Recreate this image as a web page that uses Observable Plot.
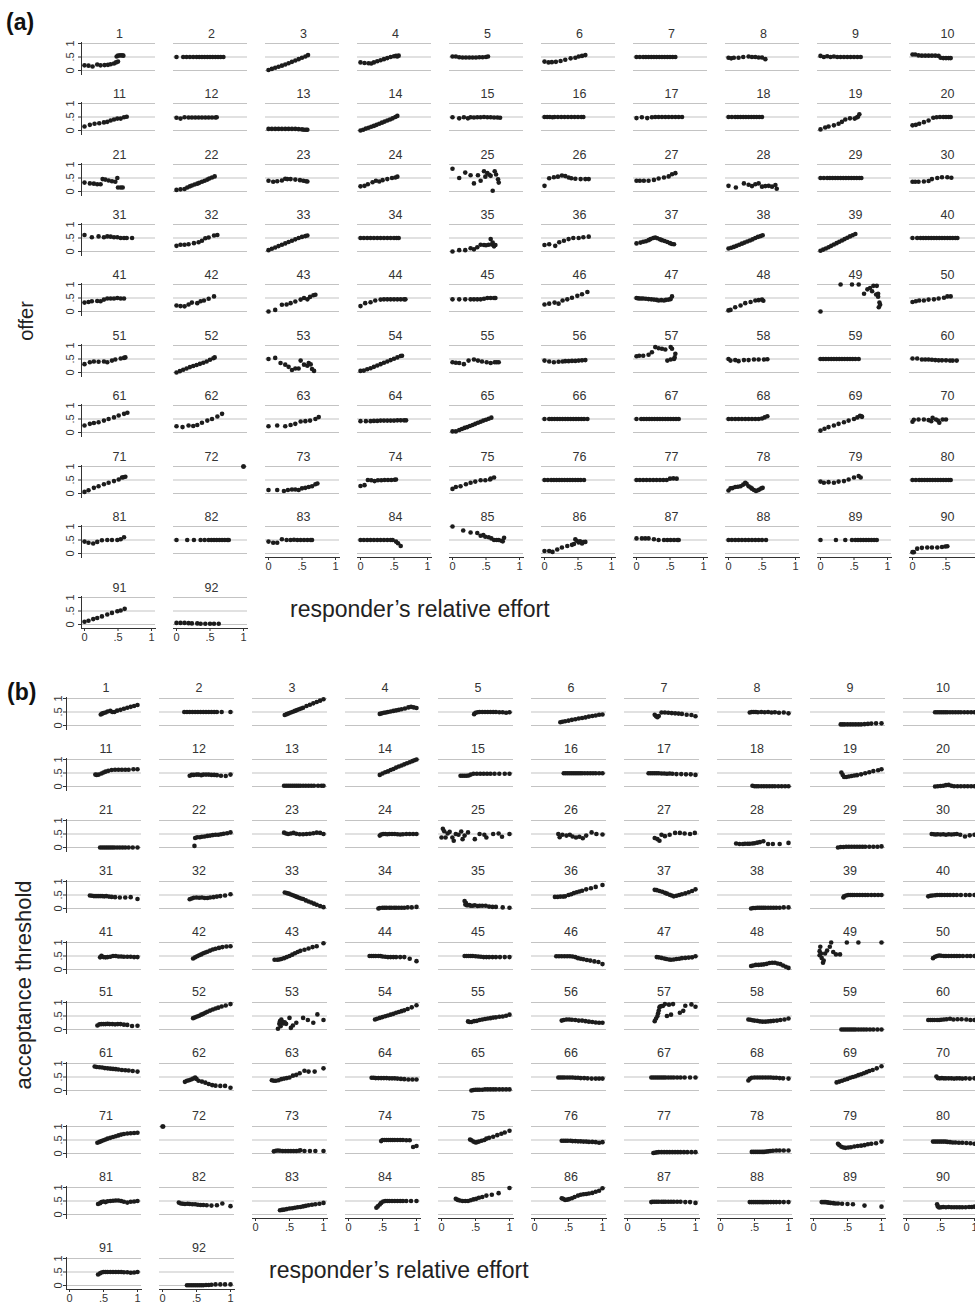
<!DOCTYPE html>
<html><head><meta charset="utf-8">
<script src="https://cdn.jsdelivr.net/npm/d3@7"></script>
<script src="https://cdn.jsdelivr.net/npm/@observablehq/plot@0.6"></script>
<style>
body{margin:0;background:#fff;}
#root{position:relative;width:975px;height:1303px;overflow:hidden;background:#fff;font-family:"Liberation Sans",Arial,sans-serif;color:#222;}
.cell{position:absolute;}
.lbl{position:absolute;white-space:nowrap;line-height:1;}
</style></head><body><div id="root"></div>
<script>
// ---------- data: each subject's points as "x:y" pairs in hundredths ----------
const subjects = d3.range(1, 93);
const offerPoints = [
"0:19 6:18 12:15 19:22 24:19 30:20 35:21 39:23 44:26 47:30 50:33 48:52 50:55 53:56 56:56 58:55",
"0:50 10:50 15:50 20:50 25:50 30:50 34:50 38:50 42:50 46:50 50:50 54:50 58:50 62:50 66:50 70:50",
"0:2 5:6 10:10 15:14 20:18 25:22 30:27 35:32 40:37 45:42 50:47 55:52 59:57",
"0:30 6:28 12:27 16:26 20:30 25:34 30:38 35:42 40:46 45:50 50:53 53:54 55:52 57:55",
"0:52 5:52 10:49 15:48 20:48 25:48 30:48 35:48 40:49 45:49 50:50 53:52",
"0:33 6:30 11:31 17:32 24:35 31:40 39:45 46:47 51:52 56:54 61:57",
"0:50 5:50 10:50 14:50 18:50 22:50 26:50 30:50 34:50 38:50 42:50 46:50 50:50 54:50 58:50",
"0:47 4:45 8:47 15:47 22:50 30:52 35:50 40:50 45:48 50:48 55:42",
"0:54 5:50 10:53 15:50 20:52 25:50 30:50 35:50 40:50 45:50 50:50 55:50 60:50",
"0:59 4:59 9:56 14:55 19:55 24:55 29:55 34:55 39:54 42:47 46:46 50:46 54:46 57:46",
"0:15 8:21 15:25 22:27 29:30 34:32 39:37 44:41 49:44 54:44 59:49 63:51",
"0:47 6:44 12:49 18:48 23:48 28:48 33:48 38:48 43:48 48:48 53:48 58:48 60:49",
"0:6 5:6 10:6 15:6 20:6 25:6 30:6 35:6 40:6 45:5 50:4 53:3 56:3 58:3",
"0:0 4:3 8:7 12:10 16:14 20:17 24:21 28:25 32:29 36:33 40:37 44:41 48:45 52:50 55:54",
"0:49 10:45 17:49 23:45 27:49 32:48 37:49 42:49 47:50 52:49 57:49 62:48 67:48 71:47",
"0:50 4:50 8:50 12:49 15:50 20:50 25:50 30:50 35:50 40:50 45:50 50:50 55:50 58:50",
"0:46 8:49 16:46 23:49 28:50 33:50 38:50 43:50 48:50 53:50 58:50 63:50 68:50",
"0:50 5:50 10:50 14:50 18:50 22:50 26:50 30:50 34:50 38:50 42:50 46:50 50:50",
"0:4 7:11 12:15 20:19 27:25 32:32 37:41 44:45 51:44 54:48 56:51 58:60",
"0:19 5:21 10:25 17:31 24:37 31:47 36:49 41:50 46:50 50:50 54:50 57:50",
"0:33 8:30 14:29 19:27 24:27 27:46 31:44 36:41 41:38 46:36 49:50 50:15 54:15 57:15",
"0:6 6:8 12:9 16:15 20:19 23:22 27:26 31:29 34:32 38:36 42:40 46:44 49:48 53:52 57:56",
"0:40 7:36 13:38 20:41 25:47 28:46 33:46 40:44 47:42 52:40 56:38 58:37",
"0:19 6:21 11:27 18:34 23:40 28:37 33:42 40:46 47:50 52:52 55:55",
"0:84 10:50 19:70 27:60 32:30 38:60 42:40 47:75 49:55 52:68 55:62 57:58 60:3 63:75 65:63 68:45 69:33",
"0:21 7:49 14:53 20:55 26:59 31:57 36:52 40:49 46:47 54:46 61:46 66:46",
"0:40 5:40 11:40 18:40 26:43 33:48 41:52 48:56 53:64 58:68",
"0:21 11:15 23:30 30:25 35:20 40:27 45:30 50:18 55:20 60:21 65:18 70:24 72:10",
"0:50 5:50 10:50 14:50 18:50 22:50 26:50 30:50 34:50 38:50 42:50 46:50 50:50 54:50 58:50 61:50",
"0:36 4:36 9:36 17:37 24:39 29:46 37:50 44:53 52:53 58:51",
"0:61 11:53 21:56 29:53 34:56 39:55 44:53 49:53 54:50 59:50 63:50 71:50",
"0:21 6:25 12:25 18:27 26:31 33:34 38:40 43:49 48:52 56:59 61:61",
"0:5 5:10 10:15 15:20 20:25 25:30 30:35 35:40 40:45 45:50 50:54 55:57 58:59",
"0:50 5:50 10:50 15:50 20:50 25:50 30:50 35:50 40:50 45:50 50:50 54:50 57:50",
"0:0 10:5 19:5 27:12 32:8 37:16 42:25 47:24 50:23 54:25 57:46 59:26 60:33 62:19 64:24",
"0:24 7:27 16:21 22:34 29:40 36:46 43:50 51:50 58:53 66:55",
"0:30 6:33 10:36 14:38 18:42 21:46 25:50 28:52 31:49 35:45 38:42 42:39 46:35 50:31 53:28 56:27",
"0:11 4:14 8:17 12:21 16:25 20:29 24:33 28:37 32:41 36:45 40:50 44:54 48:57 51:60",
"0:3 4:7 8:11 12:16 16:21 20:26 24:31 28:36 32:41 36:46 40:51 44:56 48:60 52:65",
"0:50 7:50 12:50 16:50 20:50 24:50 28:50 32:50 36:50 40:50 44:50 48:50 52:50 56:50 60:50 64:50 67:50",
"0:33 6:35 11:38 19:39 24:38 29:44 34:48 39:48 44:48 49:50 54:48 59:48",
"0:22 6:20 12:19 18:26 23:33 31:31 36:38 41:41 48:47 56:56",
"0:0 10:6 20:25 27:26 33:31 40:37 48:44 53:50 58:45 62:54 67:60 70:62",
"0:20 7:31 15:34 22:41 30:44 35:45 40:45 45:45 50:45 55:45 60:45 65:45 67:45",
"0:45 10:45 19:45 27:45 32:45 37:45 42:45 47:47 52:50 57:50 62:50 64:50",
"0:26 7:29 15:33 21:29 27:41 34:45 41:51 49:58 56:64 64:72",
"0:50 2:49 4:48 7:48 10:48 14:47 18:46 22:45 26:44 30:43 33:41 37:42 41:41 44:43 48:44 51:46 53:56",
"0:4 3:6 10:16 18:22 25:31 33:35 40:41 45:42 50:44 52:40",
"0:0 30:100 47:100 57:100 65:66 70:82 74:87 77:75 79:95 83:63 84:95 86:55 86:66 87:16 88:33 89:25",
"0:35 5:38 10:41 17:41 24:44 32:45 39:48 47:51 52:56 57:56",
"0:31 8:38 14:41 21:40 29:41 34:38 41:44 46:48 54:52 59:54 61:56",
"0:0 5:5 10:10 15:15 20:20 25:24 30:28 35:32 40:36 45:41 50:47 55:53 57:56",
"0:50 10:54 18:35 25:29 30:21 35:9 40:15 45:15 48:44 53:29 58:25 60:35 63:30 65:13 68:6",
"0:6 5:7 10:12 15:16 20:21 25:26 30:31 35:36 40:41 45:46 50:51 55:56 60:61 62:62",
"0:38 5:36 10:35 17:31 24:44 32:48 38:44 44:41 51:38 57:35 63:38 66:38 69:38",
"0:44 7:41 14:38 21:40 27:41 31:42 36:42 41:43 46:43 51:44 56:45 61:46",
"0:60 4:62 10:62 18:66 23:75 28:94 33:90 38:88 43:85 51:94 53:88 46:44 51:48 56:50 57:56 58:69",
"0:50 3:44 10:46 15:42 23:46 30:46 38:48 45:48 53:48 58:49",
"0:50 4:50 8:50 12:50 16:50 20:50 24:50 28:50 32:50 36:50 40:50 44:50 48:50 52:50 57:50",
"0:52 7:52 14:48 19:48 24:48 29:47 34:46 39:45 44:45 50:45 56:44 60:44 66:44",
"0:26 8:32 14:35 21:38 29:44 36:50 44:56 51:63 59:69 64:73",
"0:23 9:20 18:26 25:24 31:28 38:36 46:44 53:50 61:59 68:69",
"0:23 13:26 25:23 33:28 40:32 48:41 55:42 62:44 70:50 75:57",
"0:42 8:42 15:42 20:43 25:43 30:44 35:44 40:44 45:44 50:44 55:45 60:45 65:45 68:45",
"0:4 5:4 10:9 14:13 18:17 22:20 26:24 30:28 34:32 38:36 42:40 46:44 50:47 54:51 58:55",
"0:50 7:50 11:50 15:50 19:50 23:50 27:50 31:50 35:50 39:50 43:50 47:50 51:50 55:50 59:50 64:50",
"0:50 7:50 11:50 15:50 19:50 23:50 27:50 31:50 35:50 39:50 43:50 47:50 51:50 55:50 59:50 63:50",
"0:50 5:50 10:50 15:50 20:50 25:50 30:50 35:50 40:50 45:50 50:52 54:56 58:60",
"0:7 6:14 12:20 20:26 27:32 35:38 42:44 50:50 55:56 59:62 61:60 62:58",
"0:40 2:47 9:48 17:48 24:46 28:42 30:54 35:48 38:44 40:36 45:48 50:48",
"0:6 6:12 14:21 21:27 29:34 36:40 44:46 51:52 56:59 58:60 61:62",
"100:100 100:100",
"0:13 13:13 23:9 29:13 35:15 40:15 45:13 50:19 55:21 60:24 65:27 70:34 73:37",
"0:28 6:31 11:50 16:49 21:46 26:49 31:49 36:50 41:50 46:50 51:51 53:52",
"0:17 5:24 12:27 20:34 27:40 34:44 42:49 49:49 56:52 57:55 62:59",
"0:50 5:50 10:50 14:50 18:50 22:50 26:50 30:50 34:50 38:50 42:50 46:50 50:50 54:50 59:50",
"0:50 5:50 10:50 15:50 20:50 25:50 30:50 35:50 40:50 45:50 50:55 55:56 60:55",
"0:11 3:19 6:20 10:24 14:25 18:27 22:33 25:40 27:36 30:27 33:22 35:18 38:13 41:9 44:12 46:15 49:19 51:21",
"0:44 5:40 12:42 20:40 27:44 35:46 42:52 50:59 57:65 60:59",
"0:50 5:50 10:50 14:50 18:50 22:50 26:50 30:50 34:50 38:50 42:50 46:50 50:50 54:50 57:50",
"0:44 6:40 13:37 19:43 26:49 34:50 41:50 49:50 54:53 59:60",
"0:50 16:50 26:50 36:50 42:50 48:50 52:50 56:50 60:50 64:50 68:50 72:50 76:50 78:50",
"0:44 7:40 13:40 20:53 27:50 33:50 38:51 43:50 48:50 53:50 58:50 63:50 65:50",
"0:50 5:50 10:50 15:50 20:50 25:50 30:50 35:50 40:50 45:50 48:50 53:44 56:38 60:28",
"0:100 16:85 27:78 37:76 42:66 46:68 49:62 54:60 58:56 62:50 66:50 69:50 73:47 75:45 77:58",
"0:9 7:9 12:6 19:15 26:22 34:28 41:32 44:35 46:53 48:47 51:41 53:45 56:37 58:42 61:43",
"0:56 8:56 13:56 18:56 26:53 33:50 41:50 46:50 51:50 56:50 61:50 63:50",
"0:50 5:50 10:50 15:50 20:50 25:50 30:50 35:50 40:50 45:50 50:50 56:50",
"0:50 23:50 37:50 47:50 52:50 56:50 60:50 64:50 68:50 72:50 76:50 80:50 84:50",
"0:5 2:5 7:18 14:21 22:22 29:22 37:22 44:24 49:26 52:27",
"0:10 6:14 13:20 19:24 26:30 34:37 41:43 49:49 54:52 60:58",
"0:6 6:6 12:6 18:5 23:4 31:4 36:3 43:3 50:3 56:3 63:3"
];
const thresholdPoints = [
"46:41 48:44 50:46 53:48 56:52 60:54 63:50 66:50 70:55 75:58 80:62 85:66 90:69 95:72 100:76",
"32:50 36:50 40:50 44:50 48:50 52:50 56:50 60:50 64:50 68:50 72:50 76:50 80:50 87:50 100:50",
"43:39 46:42 49:45 52:48 55:51 58:54 61:57 64:60 67:63 70:66 75:72 80:77 85:82 90:87 95:92 100:97",
"46:43 49:45 52:47 55:48 58:50 62:52 66:54 70:56 74:58 78:60 83:63 88:67 92:69 96:67 100:65",
"48:42 50:47 53:49 56:50 60:50 64:50 68:50 72:50 76:50 80:50 85:49 90:49 95:47 100:49",
"38:12 41:14 45:16 50:18 55:21 60:23 65:26 70:28 75:30 80:33 85:35 90:37 95:40 100:41",
"40:40 42:34 44:31 46:35 50:48 55:48 60:47 65:46 70:45 75:44 80:43 87:40 94:39 100:34",
"43:48 46:50 49:50 52:50 55:49 60:50 65:49 70:50 75:48 80:49 86:47 93:48 100:45",
"40:4 43:4 46:4 50:4 54:4 58:4 62:4 66:4 70:4 75:5 80:6 85:7 92:8 100:8",
"42:49 45:49 48:49 51:49 54:49 57:49 60:49 64:49 68:49 72:49 76:49 80:49 85:49 90:49 95:49 100:49",
"38:44 40:43 43:44 47:48 50:52 53:55 57:58 62:61 67:62 72:62 77:62 82:62 87:62 94:64 100:64",
"40:40 43:43 46:43 50:44 53:44 57:42 60:44 64:44 68:44 72:43 76:43 80:42 86:40 93:39 100:44",
"42:3 45:3 48:3 51:3 54:3 57:3 60:3 63:3 66:3 70:3 74:3 78:3 82:3 86:3 92:3 97:3 100:3",
"46:43 50:48 54:53 58:56 62:61 66:65 70:70 74:74 78:78 82:82 86:86 90:90 94:94 97:97 100:100",
"28:40 31:40 34:40 37:40 40:41 43:44 47:47 52:47 57:47 62:47 67:47 72:47 78:47 85:47 93:47 100:47",
"43:49 46:49 49:49 52:49 55:49 58:49 61:49 64:49 67:49 70:49 74:49 78:49 82:49 86:49 90:49 95:49 100:49",
"31:49 34:49 37:49 40:49 43:49 46:49 50:48 54:48 58:47 62:48 66:47 72:46 79:46 86:45 93:45 100:43",
"47:3 50:1 53:1 56:1 60:1 64:1 68:1 72:1 76:1 80:1 85:1 90:1 95:1 100:1",
"41:52 43:43 45:35 48:35 52:37 56:39 60:41 64:42 70:45 76:49 82:53 88:57 95:60 100:64",
"42:0 46:1 50:2 54:3 58:5 62:6 66:3 70:1 75:1 80:1 85:1 90:1 95:1 100:1",
"45:0 48:0 51:0 54:0 57:0 60:0 63:0 66:0 70:0 74:0 78:0 82:0 87:0 93:0 100:0",
"47:6 48:35 51:38 55:38 58:40 62:41 66:43 70:44 74:46 78:47 82:47 86:49 90:51 95:53 100:56",
"42:55 45:52 48:50 52:52 56:54 60:51 65:49 70:49 75:50 80:51 85:53 90:55 95:54 100:50",
"46:44 48:48 51:50 54:50 57:49 60:50 64:50 68:50 72:49 76:48 80:49 85:50 90:50 95:50 100:50",
"0:37 2:69 4:60 6:37 9:52 12:58 16:37 18:25 21:50 25:47 29:59 31:31 34:44 39:56 49:31 56:50 63:47 66:37 76:50 84:52 89:40 100:50",
"35:50 37:38 41:47 47:44 52:47 56:41 61:37 66:40 71:34 76:44 84:56 91:50 100:48",
"40:35 44:31 47:25 50:47 55:42 62:47 70:54 77:54 84:52 92:50 99:54",
"23:15 28:13 33:13 36:14 40:14 43:14 47:15 50:16 54:18 58:20 63:23 70:13 77:13 87:13 100:17",
"36:0 40:2 44:2 48:3 52:3 56:3 60:3 64:3 68:3 72:3 76:3 82:3 88:3 94:3 100:4",
"37:50 40:49 43:48 46:49 50:48 54:49 58:47 62:49 66:48 70:49 74:50 79:47 86:41 93:45 100:47",
"30:48 33:47 36:46 39:46 42:46 45:46 48:46 51:45 54:46 58:44 62:43 67:42 74:41 82:41 90:42 100:35",
"40:34 43:37 46:40 50:41 54:40 58:41 62:39 66:39 70:41 75:42 80:44 85:46 92:48 100:53",
"43:59 46:57 49:55 52:52 55:49 58:46 61:43 64:40 67:37 70:35 74:30 78:26 82:22 86:18 90:14 95:9 100:5",
"44:0 46:2 50:3 53:3 56:3 60:3 63:3 67:3 70:3 74:3 78:3 82:3 87:4 93:4 100:6",
"34:28 35:15 36:20 37:12 39:12 41:13 43:10 46:10 49:12 53:9 56:10 60:10 65:10 70:7 75:6 80:6 90:4 100:3",
"30:43 34:43 38:44 42:44 45:45 50:50 54:53 58:57 62:60 66:63 70:66 76:71 83:75 90:80 100:87",
"40:69 43:68 47:65 51:62 55:58 58:55 62:51 65:48 68:45 72:47 76:50 80:53 85:56 90:60 95:65 100:71",
"45:0 48:2 51:2 54:3 57:3 60:3 63:3 66:3 70:3 74:3 78:3 82:3 87:3 93:4 100:4",
"44:41 45:45 48:48 51:50 54:50 57:50 60:50 64:50 68:50 72:50 76:50 80:50 85:50 90:50 95:50 100:50",
"32:45 35:47 38:48 42:49 45:50 49:50 52:50 56:50 60:50 64:50 69:50 74:50 80:50 87:50 93:50 100:50",
"45:45 47:51 50:46 53:45 56:46 60:47 64:50 68:50 72:48 76:48 80:47 85:47 90:47 95:46 100:46",
"45:41 48:45 51:49 54:53 57:56 60:60 63:63 66:66 70:70 74:74 78:77 83:80 88:83 94:85 100:86",
"28:36 32:36 35:37 38:39 42:42 46:46 50:50 54:55 58:60 62:65 66:69 72:73 78:78 84:83 90:86 100:97",
"31:50 34:50 37:50 40:50 44:50 47:50 50:48 54:47 58:46 62:46 66:46 70:46 76:46 82:46 90:40 100:31",
"34:50 37:50 40:50 43:50 46:50 50:49 54:48 58:47 62:46 66:46 70:46 75:46 80:46 86:46 93:46 100:46",
"32:49 36:49 40:49 44:49 48:49 52:49 56:48 60:46 64:42 68:40 72:38 77:35 82:33 88:30 94:28 100:20",
"43:46 46:45 50:43 54:41 57:39 61:37 64:36 68:37 72:39 76:40 80:42 85:43 90:44 95:45 100:49",
"45:13 48:15 52:17 56:17 60:18 64:19 68:21 72:24 76:25 80:25 84:22 88:20 92:15 96:10 100:6",
"9:68 10:84 9:53 11:59 12:43 15:33 14:25 17:59 20:70 24:84 26:100 29:65 33:56 39:56 49:100 66:100 100:100",
"39:42 42:47 45:50 48:52 51:51 55:50 58:50 62:50 66:50 70:50 74:50 78:50 83:50 89:50 94:50 100:50",
"41:15 44:19 47:20 50:20 53:20 56:21 59:20 63:20 67:19 71:20 75:20 80:18 85:17 92:13 100:14",
"45:42 48:45 51:48 54:51 57:55 60:58 63:62 66:66 70:70 74:74 78:78 82:81 87:85 93:89 100:94",
"33:3 35:21 36:31 37:12 38:37 39:24 40:28 41:22 43:27 45:21 50:43 52:6 55:15 60:25 70:43 77:35 85:25 91:56 100:35",
"39:37 42:40 46:43 50:46 54:49 58:52 62:55 66:58 70:62 74:65 78:68 82:71 87:76 93:82 100:90",
"39:30 41:28 44:28 48:31 52:32 56:35 60:37 64:39 68:41 72:42 76:44 80:45 85:47 90:48 95:51 100:55",
"40:33 43:35 47:37 51:37 55:36 60:35 65:33 70:33 75:31 80:29 85:28 90:26 95:25 100:25",
"40:31 42:41 44:50 45:60 46:70 47:82 48:85 50:87 52:87 55:94 58:50 61:92 64:55 67:94 77:62 82:69 85:88 94:93 100:84",
"41:37 44:36 47:34 50:33 54:32 58:30 62:29 66:29 70:30 74:31 78:32 83:33 88:35 94:37 100:41",
"41:0 44:0 47:0 50:0 53:0 56:0 59:0 62:0 66:0 70:0 74:0 78:0 83:0 88:0 94:0 100:0",
"32:35 35:35 38:35 41:35 45:35 48:35 51:36 55:37 59:38 64:40 69:37 75:38 81:38 88:37 94:35 100:35",
"37:89 40:87 44:86 48:85 52:83 56:82 60:81 64:80 68:79 72:78 77:76 82:75 87:74 93:72 100:70",
"33:32 36:36 39:38 42:41 45:44 48:48 50:43 53:36 58:33 63:29 68:24 73:20 78:18 85:17 92:17 100:10",
"24:38 27:36 30:36 34:38 38:42 42:44 46:46 50:48 55:55 60:58 65:64 72:73 78:70 87:70 100:82",
"34:47 37:47 40:46 44:46 48:46 52:46 56:46 60:45 64:45 68:45 72:44 77:43 82:42 88:41 94:41 100:41",
"44:0 47:2 50:3 53:3 56:3 60:3 64:4 68:4 72:4 76:4 80:4 85:4 90:4 95:4 100:4",
"35:48 38:48 41:48 44:48 48:48 52:48 56:48 60:47 64:47 68:46 73:46 78:45 84:44 90:44 95:44 100:44",
"35:48 38:48 41:48 44:48 47:48 50:48 53:48 56:48 60:48 64:48 68:48 73:48 78:48 84:48 92:48 100:48",
"41:37 43:43 46:47 50:48 54:48 58:48 62:48 66:48 70:48 74:48 78:47 82:47 87:46 92:45 100:44",
"34:30 38:33 42:36 46:40 50:43 54:47 58:50 62:53 66:57 70:60 74:64 78:68 82:72 87:76 93:82 100:90",
"44:52 46:46 49:45 52:46 55:45 58:45 62:45 66:45 70:44 74:45 78:45 82:44 87:45 93:44 100:45",
"41:40 44:43 47:46 50:49 53:52 56:55 60:58 64:61 68:64 72:67 76:70 80:72 85:74 90:75 95:76 100:77",
"0:100 1:100",
"27:8 30:10 33:11 36:10 40:9 44:9 48:9 52:9 56:9 60:9 64:10 66:12 72:9 80:9 88:9 100:9",
"48:46 50:50 53:50 56:50 59:50 62:50 65:50 68:50 72:50 76:50 80:50 85:49 90:49 95:24 100:28",
"42:52 44:49 47:44 50:41 52:42 55:44 59:47 63:50 66:55 70:58 76:62 82:68 88:73 93:78 100:84",
"40:47 43:47 46:47 49:47 53:47 56:46 60:46 64:45 68:45 72:44 76:44 80:43 85:43 90:42 95:40 100:42",
"38:2 40:3 43:4 46:5 50:5 54:5 58:5 62:5 66:5 70:5 74:5 78:5 83:5 88:5 94:5 100:5",
"46:6 49:6 52:6 55:6 58:6 61:6 64:6 67:7 70:8 73:9 77:10 82:11 87:11 93:11 100:11",
"36:36 38:31 41:25 44:22 47:21 51:22 55:23 60:26 65:28 70:29 75:31 80:34 85:36 92:38 100:44",
"39:44 42:44 45:44 48:44 51:44 54:44 57:44 60:43 64:42 68:41 72:41 77:40 82:40 88:39 94:38 100:36",
"42:39 45:42 47:46 50:48 53:46 56:49 60:50 64:51 68:52 72:52 76:50 80:47 85:44 90:47 95:48 100:50",
"24:44 27:41 30:40 33:39 37:40 40:39 44:38 48:38 52:36 56:35 60:35 65:34 72:33 80:34 88:41 100:31",
"36:16 39:17 42:18 46:20 50:22 54:23 58:25 62:27 66:28 70:30 74:32 78:34 83:36 88:38 94:40 100:43",
"41:25 43:30 46:37 48:43 51:48 54:50 57:50 60:50 64:50 68:50 72:50 76:50 80:50 85:50 92:50 100:50",
"21:58 24:54 27:52 31:50 35:50 39:50 43:53 47:56 51:58 55:62 60:65 66:70 74:73 84:79 100:98",
"40:60 42:58 45:54 48:55 51:57 55:60 59:65 64:70 68:73 72:75 76:76 80:78 85:80 90:84 95:88 100:97",
"35:46 37:47 40:47 43:47 46:47 50:47 53:47 56:47 60:47 64:47 68:47 73:47 78:47 85:46 92:46 100:43",
"43:46 46:46 49:46 52:46 55:46 58:46 61:46 64:46 67:46 70:46 74:46 78:46 82:46 87:46 93:46 100:46",
"12:46 14:46 16:46 18:46 20:45 22:44 25:43 29:42 32:41 36:41 42:40 50:39 58:38 75:33 100:29",
"45:38 46:30 48:26 51:27 54:28 58:27 62:28 66:27 70:27 74:27 78:27 82:27 87:27 92:28 96:28 100:29",
"42:41 45:45 47:48 50:50 53:50 56:50 60:50 64:50 68:50 72:50 76:50 80:49 85:49 90:47 95:48 100:50",
"36:1 39:1 42:1 45:1 48:1 51:1 54:1 57:1 60:1 64:2 68:2 72:3 78:4 85:4 92:4 100:4"
];
const xTicks = [0, 0.5, 1];
const yTicks = [0, 0.5, 1];
const tickLabel = d => d === 0.5 ? ".5" : String(d);
const panelLetters = ["(a)", "(b)"];
const yTitles = ["offer", "acceptance threshold"];
const xTitle = "responder\u2019s relative effort";

// ---------- layout ----------
const FONT = '"Liberation Sans", Arial, Helvetica, sans-serif';
const panels = [
  {data: offerPoints, x0: 84, step: 92, xUnit: 67,
   rowTop: [43,103,164,224,284,345,405,466,526,597], titleDx: 1, titleDy: -9, yPad: 5,
   letter: {left: 6, top: 11}, yTitle: {cx: 26, cy: 321, size: 20}, xTitle: {left: 290, top: 598}},
  {data: thresholdPoints, x0: 68.5, step: 93, xUnit: 68,
   rowTop: [698,759,820,881,942,1002,1063,1126,1187,1258], titleDx: 2, titleDy: -10, yPad: 2,
   letter: {left: 7, top: 681}, yTitle: {cx: 24, cy: 985, size: 22}, xTitle: {left: 269, top: 1259}}
];
const ML = 30, MR = 6, MT = 24, MB = 24, FRAME_H = 32, IN_L = 3, IN_R = 4, IN_T = 1, IN_B = 4;
const root = document.getElementById("root");
const parse = s => s.trim().split(/\s+/).map(p => { const [x, y] = p.split(":"); return {x: +x / 100, y: +y / 100}; });

panels.forEach((P, pi) => {
  subjects.forEach((id, i) => {
    const row = Math.floor(i / 10), col = i % 10;
    const hasX = row === 9 || (row === 8 && col >= 2);
    const hasY = col === 0;
    const pts = parse(P.data[i]);
    const frameW = P.xUnit + IN_L + IN_R;
    const marks = [
      Plot.ruleY(yTicks, {stroke: "#c3c3c3", strokeWidth: 1.2}),
    ];
    if (hasY) {
      marks.push(Plot.frame({anchor: "left", stroke: "#333"}));
      marks.push(Plot.axisY({ticks: yTicks, tickSize: 3, tickPadding: P.yPad, tickRotate: -90, tickFormat: tickLabel, fontSize: 11, label: null, stroke: "#333", fill: "#333"}));
    }
    if (hasX) {
      marks.push(Plot.frame({anchor: "bottom", stroke: "#333"}));
      marks.push(Plot.axisX({ticks: xTicks, tickSize: 3, tickPadding: 2, tickFormat: tickLabel, fontSize: 11, label: null, stroke: "#333", fill: "#333"}));
    }
    marks.push(Plot.dot(pts, {x: "x", y: "y", r: 2.3, fill: "#1c1c1c"}));
    marks.push(Plot.text([id], {frameAnchor: "top", lineAnchor: "middle", dx: P.titleDx, dy: P.titleDy, text: d => String(d), fontSize: 12.5, fill: "#333"}));
    const svg = Plot.plot({
      width: ML + frameW + MR,
      height: MT + FRAME_H + MB,
      marginLeft: ML, marginRight: MR, marginTop: MT, marginBottom: MB,
      insetLeft: IN_L, insetRight: IN_R, insetTop: IN_T, insetBottom: IN_B,
      x: hasX ? {domain: [0, 1]} : {domain: [0, 1], axis: null},
      y: hasY ? {domain: [0, 1]} : {domain: [0, 1], axis: null},
      style: {background: "transparent", overflow: "visible", fontFamily: FONT, fontSize: "11px", color: "#333"},
      marks
    });
    svg.classList.add("cell");
    svg.style.position = "absolute";
    svg.style.left = (P.x0 + col * P.step - IN_L - ML) + "px";
    svg.style.top = (P.rowTop[row] - IN_T - MT) + "px";
    root.appendChild(svg);
  });

  const L = document.createElement("div");
  L.className = "lbl"; L.textContent = panelLetters[pi];
  Object.assign(L.style, {left: P.letter.left + "px", top: P.letter.top + "px", fontSize: "23px", fontWeight: "bold", color: "#111"});
  root.appendChild(L);

  const Y = document.createElement("div");
  Y.className = "lbl"; Y.textContent = yTitles[pi];
  Object.assign(Y.style, {left: P.yTitle.cx + "px", top: P.yTitle.cy + "px", fontSize: P.yTitle.size + "px", color: "#222",
    transform: "translate(-50%,-50%) rotate(-90deg)", transformOrigin: "50% 50%"});
  root.appendChild(Y);

  const X = document.createElement("div");
  X.className = "lbl"; X.textContent = xTitle;
  Object.assign(X.style, {left: P.xTitle.left + "px", top: P.xTitle.top + "px", fontSize: "23px", color: "#222"});
  root.appendChild(X);
});
</script>
</body></html>
